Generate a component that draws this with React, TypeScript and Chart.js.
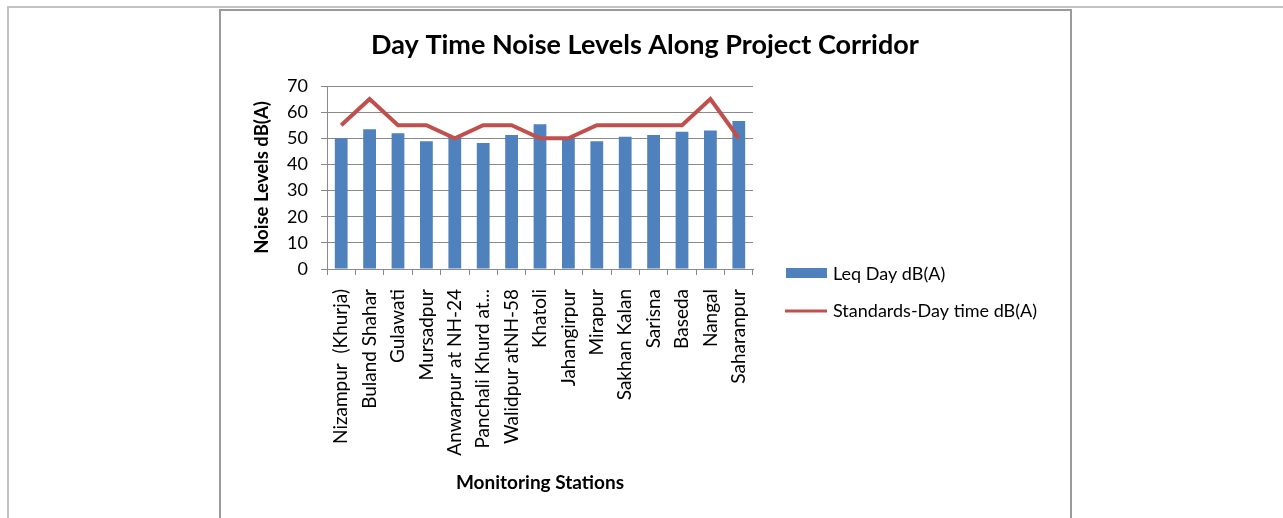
import React, { useEffect, useRef } from "react";
import { Chart, registerables } from "chart.js";

Chart.register(...registerables);

const chartTitle = "Day Time Noise Levels Along Project Corridor";
const xAxisTitle = "Monitoring Stations";
const yAxisTitle = "Noise Levels dB(A)";

const categories = [
  "Nizampur  (Khurja)",
  "Buland Shahar",
  "Gulawati",
  "Mursadpur",
  "Anwarpur at NH-24",
  "Panchali Khurd at...",
  "Walidpur atNH-58",
  "Khatoli",
  "Jahangirpur",
  "Mirapur",
  "Sakhan Kalan",
  "Sarisna",
  "Baseda",
  "Nangal",
  "Saharanpur",
];

const leqDayName = "Leq Day dB(A)";
const leqDay = [50.0, 53.5, 51.9, 48.9, 50.6, 48.2, 51.3, 55.4, 50.4, 48.9, 50.6, 51.3, 52.5, 53.0, 56.6];

const standardsName = "Standards-Day time dB(A)";
const standardsDay = [55, 65, 55, 55, 50, 55, 55, 50, 50, 55, 55, 55, 55, 65, 50];

const yMin = 0;
const yMax = 70;
const yStep = 10;

const FONT = "Lato";
const BAR_COLOR = "#4F81BD";
const LINE_COLOR = "#C0504D";
const GRID_COLOR = "#8a8a8a";

const decorPlugin = {
  id: "decor",
  afterDraw(chart: any) {
    const ctx = chart.ctx;
    const ds = chart.data.datasets;
    ctx.save();
    ctx.fillStyle = "#000";
    ctx.font = `bold 27px ${FONT}`;
    ctx.textAlign = "center";
    ctx.textBaseline = "middle";
    ctx.fillText(chartTitle, 645, 45);

    // legend
    const bar = ds.find((d: any) => d.type === "bar");
    const line = ds.find((d: any) => d.type === "line");
    ctx.fillStyle = bar.backgroundColor;
    ctx.fillRect(786, 268, 41, 10);
    ctx.strokeStyle = line.borderColor;
    ctx.lineWidth = 3;
    ctx.beginPath();
    ctx.moveTo(785, 311);
    ctx.lineTo(827, 311);
    ctx.stroke();
    ctx.fillStyle = "#000";
    ctx.font = `18px ${FONT}`;
    ctx.textAlign = "left";
    ctx.fillText(bar.label, 833, 274);
    ctx.fillText(line.label, 833, 311);
    ctx.restore();
  },
};

export default function App() {
  const ref = useRef<HTMLCanvasElement | null>(null);

  useEffect(() => {
    if (!ref.current) return;
    const chart = new Chart(ref.current, {
      type: "bar",
      data: {
        labels: categories,
        datasets: [
          {
            type: "line",
            label: standardsName,
            data: standardsDay,
            borderColor: LINE_COLOR,
            backgroundColor: LINE_COLOR,
            borderWidth: 4,
            pointRadius: 0,
            tension: 0,
            order: 0,
          } as any,
          {
            type: "bar",
            label: leqDayName,
            data: leqDay,
            backgroundColor: BAR_COLOR,
            barPercentage: 0.45,
            categoryPercentage: 1,
            order: 1,
          },
        ],
      },
      options: {
        responsive: false,
        animation: false,
        devicePixelRatio: 1,
        layout: { padding: { left: 251, right: 530, top: 86, bottom: 22 } },
        plugins: {
          legend: { display: false },
          title: { display: false },
          tooltip: { enabled: false },
        },
        scales: {
          x: {
            afterFit: (s: any) => {
              s.height = 227;
            },
            grid: {
              display: true,
              drawOnChartArea: false,
              drawTicks: true,
              tickLength: 6,
              color: GRID_COLOR,
              offset: true,
            },
            border: { display: true, color: GRID_COLOR, width: 1 },
            ticks: {
              autoSkip: false,
              maxRotation: 90,
              minRotation: 90,
              padding: 14,
              color: "#000",
              font: { family: FONT, size: 19 },
            },
            title: {
              display: true,
              text: xAxisTitle,
              color: "#000",
              padding: { top: 2, bottom: 2 },
              font: { family: FONT, size: 19, weight: "bold" },
            },
          },
          y: {
            min: yMin,
            max: yMax,
            afterFit: (s: any) => {
              s.width = 76;
            },
            grid: {
              color: GRID_COLOR,
              tickLength: 6,
              drawTicks: true,
            },
            border: { display: true, color: GRID_COLOR, width: 1 },
            ticks: {
              stepSize: yStep,
              padding: 13,
              color: "#000",
              font: { family: FONT, size: 18 },
            },
            title: {
              display: true,
              text: yAxisTitle,
              color: "#000",
              padding: { top: 0, bottom: 0 },
              font: { family: FONT, size: 18.5, weight: "bold" },
            },
          },
        },
      },
      plugins: [decorPlugin],
    });
    return () => chart.destroy();
  }, []);

  return (
    <div
      style={{
        position: "fixed",
        left: 0,
        top: 0,
        width: 1283,
        height: 518,
        overflow: "hidden",
        background: "#fff",
      }}
    >
      <div
        style={{
          position: "absolute",
          left: 7,
          top: 6,
          width: 1400,
          height: 700,
          borderTop: "2px solid #c3c3c3",
          borderLeft: "2px solid #c3c3c3",
        }}
      />
      <div
        style={{
          position: "absolute",
          left: 219,
          top: 9,
          width: 849,
          height: 700,
          border: "2px solid #9a9a9a",
          background: "#fff",
        }}
      />
      <canvas
        ref={ref}
        width={1283}
        height={518}
        style={{ position: "absolute", left: 0, top: 0, width: 1283, height: 518 }}
      />
    </div>
  );
}
